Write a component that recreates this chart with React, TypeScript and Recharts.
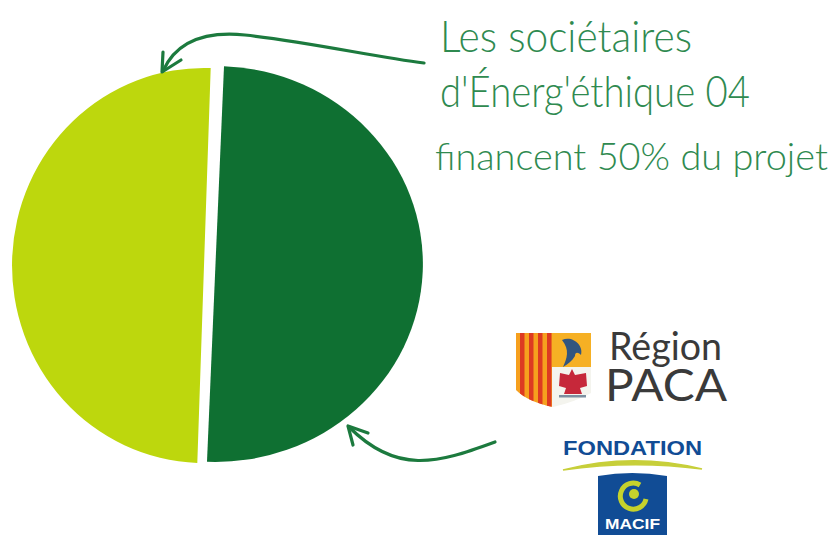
import React from "react";
import { PieChart, Pie, Sector, Cell } from "recharts";

const societaires = [{ name: "Sociétaires d'Énerg'éthique 04", value: 50 }];
const partenaires = [{ name: "Région PACA et Fondation MACIF", value: 50 }];
const DARK = "#0f7032";
const LIGHT = "#bdd70d";
const TEXT_GREEN = "#2f8a50";
const ARROW = "#1c7a3e";
const BLUE = "#114c95";

const stretched = (sx: number) => (props: any) => {
  const { cx, cy } = props;
  return (
    <g transform={`translate(${cx} ${cy}) scale(${sx} 1) translate(${-cx} ${-cy})`}>
      <Sector {...props} />
    </g>
  );
};

const captionLines = [
  { text: "Les sociétaires", x: 440, y: 52, w: 252, size: 43 },
  { text: "d'Énerg'éthique 04", x: 440, y: 107, w: 310, size: 43 },
  { text: "financent 50% du projet", x: 435, y: 170, w: 393, size: 37 },
];

const stripes = [520, 529, 538, 547];
const SHIELD = "M516 333 H591 V393 Q575 402 553 407 Q528 402 516 390 Z";

export default function App() {
  return (
    <div style={{ position: "absolute", left: 0, top: 0, width: 832, height: 535, background: "#fff", overflow: "hidden" }}>
      <div style={{ position: "absolute", left: 0, top: 0 }}>
        <PieChart width={832} height={535} margin={{ top: 0, right: 0, bottom: 0, left: 0 }}>
          <Pie
            data={societaires}
            dataKey="value"
            cx={204}
            cy={265.5}
            innerRadius={0}
            outerRadius={197.5}
            startAngle={88}
            endAngle={268}
            stroke="none"
            isAnimationActive={false}
            shape={stretched(0.972)}
          >
            <Cell fill={LIGHT} />
          </Pie>
          <Pie
            data={partenaires}
            dataKey="value"
            cx={215.5}
            cy={264}
            innerRadius={0}
            outerRadius={198}
            startAngle={87.65}
            endAngle={-92.35}
            stroke="none"
            isAnimationActive={false}
            shape={stretched(1.048)}
          >
            <Cell fill={DARK} />
          </Pie>
        </PieChart>
      </div>
      <svg width={832} height={535} style={{ position: "absolute", left: 0, top: 0 }}>
        <defs>
          <clipPath id="shield">
            <path d={SHIELD} />
          </clipPath>
        </defs>
        {/* arrows */}
        <g fill="none" stroke={ARROW} strokeWidth={3.2} strokeLinecap="round" strokeLinejoin="round">
          <path d="M424 63 C375 57 310 42 245 35 C205 31 176 42 163 71" />
          <path d="M163 52 L162 72 L181 60" />
          <path d="M495 442 C465 453 442 461 418 460.5 C392 460 368 446 349 427" />
          <path d="M368 433 L348 426 L353 445" />
        </g>
        {/* caption */}
        {captionLines.map((l) => (
          <text
            key={l.text}
            x={l.x}
            y={l.y}
            textLength={l.w}
            lengthAdjust="spacingAndGlyphs"
            fontFamily="Lato, 'Open Sans', sans-serif"
            fontSize={l.size}
            fontWeight={300}
            fill={TEXT_GREEN}
          >
            {l.text}
          </text>
        ))}
        {/* Region PACA logo */}
        <g clipPath="url(#shield)">
          <rect x={516} y={333} width={75} height={75} fill="#f4f4ee" />
          <rect x={516} y={333} width={36} height={75} fill="#f6a01e" />
          {stripes.map((x) => (
            <rect key={x} x={x} y={333} width={4.5} height={75} fill="#dd3a22" />
          ))}
          <rect x={552} y={333} width={39} height={34} fill="#f6b024" />
        </g>
        <path d="M562 340 C572 335 584 345 581 355 C578 352 575 352 575 356 C572 361 568 364 563 367 C567 358 570 350 562 340 Z" fill="#31557f" />
        <path d="M572 369 L575 375 L586 373 L587 386 L580 388 L582 394 L564 394 L566 388 L559 386 L560 373 L569 375 Z" fill="#c6283a" />
        <rect x={559} y={395} width={27} height={2.5} fill="#7d8fa0" />
        <text x={609} y={360} textLength={113} lengthAdjust="spacingAndGlyphs" fontFamily="Lato, sans-serif" fontSize={38} fill="#3a3a3a">Région</text>
        <text x={605} y={401} textLength={122} lengthAdjust="spacingAndGlyphs" fontFamily="Lato, sans-serif" fontSize={45} fill="#3a3a3a">PACA</text>
        {/* Fondation MACIF logo */}
        <text x={563} y={455} textLength={139} lengthAdjust="spacingAndGlyphs" fontFamily="'Liberation Sans', sans-serif" fontWeight={700} fontSize={21} fill={BLUE}>FONDATION</text>
        <path d="M563 470 Q632 452 702 469 Q632 460 563 470 Z" fill="#c7cf3a" stroke="#c7cf3a" strokeWidth={1.5} />
        <path d="M598 476 Q632 470 667 476 V535 H598 Z" fill={BLUE} />
        <path d="M640 485 A13 13 0 1 0 646 499" fill="none" stroke="#c5d22c" strokeWidth={5} />
        <circle cx={634} cy={494} r={5} fill="#c5d22c" />
        <text x={605} y={529} textLength={55} lengthAdjust="spacingAndGlyphs" fontFamily="'Liberation Sans', sans-serif" fontWeight={700} fontSize={15} fill="#fff">MACIF</text>
      </svg>
    </div>
  );
}
